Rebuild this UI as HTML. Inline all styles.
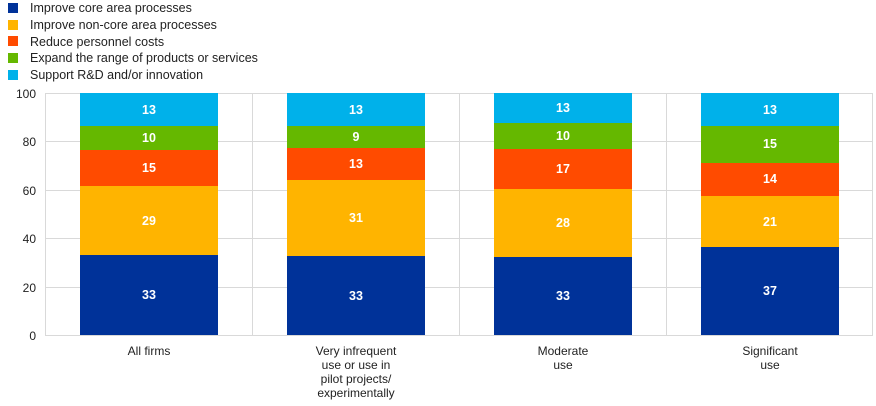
<!DOCTYPE html>
<html><head><style>body{margin:0;background:#fff}svg{display:block;font-family:"Liberation Sans",Arial,sans-serif}</style></head><body>
<svg width="876" height="406" viewBox="0 0 876 406">
<g font-size="12.5" fill="#222">
<rect x="8" y="3" width="10" height="10" fill="#003299"/><text x="30" y="12">Improve  core area processes</text>
<rect x="8" y="20" width="10" height="10" fill="#ffb400"/><text x="30" y="29">Improve  non-core area processes</text>
<rect x="8" y="36" width="10" height="10" fill="#ff4b00"/><text x="30" y="46">Reduce personnel costs</text>
<rect x="8" y="53" width="10" height="10" fill="#65b800"/><text x="30" y="62">Expand the range of products or services</text>
<rect x="8" y="70" width="10" height="10" fill="#00b1ea"/><text x="30" y="79">Support R&amp;D and/or innovation</text>
</g>
<g stroke="#d9d9d9" stroke-width="1">
<line x1="45" y1="93.5" x2="873" y2="93.5"/><line x1="45" y1="141.5" x2="873" y2="141.5"/><line x1="45" y1="190.5" x2="873" y2="190.5"/><line x1="45" y1="238.5" x2="873" y2="238.5"/><line x1="45" y1="287.5" x2="873" y2="287.5"/><line x1="45" y1="335.5" x2="873" y2="335.5"/>
<line x1="45.5" y1="93" x2="45.5" y2="335"/><line x1="252.5" y1="93" x2="252.5" y2="335"/><line x1="459.5" y1="93" x2="459.5" y2="335"/><line x1="666.5" y1="93" x2="666.5" y2="335"/><line x1="872.5" y1="93" x2="872.5" y2="335"/>
</g>
<g font-size="12" fill="#222" text-anchor="end">
<text x="36" y="98">100</text><text x="36" y="146">80</text><text x="36" y="195">60</text><text x="36" y="243">40</text><text x="36" y="292">20</text><text x="36" y="340">0</text>
</g>
<g>
<rect x="80" y="93" width="138" height="33" fill="#00b1ea"/><rect x="80" y="126" width="138" height="24" fill="#65b800"/><rect x="80" y="150" width="138" height="36" fill="#ff4b00"/><rect x="80" y="186" width="138" height="69" fill="#ffb400"/><rect x="80" y="255" width="138" height="80" fill="#003299"/>
<rect x="287" y="93" width="138" height="33" fill="#00b1ea"/><rect x="287" y="126" width="138" height="22" fill="#65b800"/><rect x="287" y="148" width="138" height="32" fill="#ff4b00"/><rect x="287" y="180" width="138" height="76" fill="#ffb400"/><rect x="287" y="256" width="138" height="79" fill="#003299"/>
<rect x="494" y="93" width="138" height="30" fill="#00b1ea"/><rect x="494" y="123" width="138" height="26" fill="#65b800"/><rect x="494" y="149" width="138" height="40" fill="#ff4b00"/><rect x="494" y="189" width="138" height="68" fill="#ffb400"/><rect x="494" y="257" width="138" height="78" fill="#003299"/>
<rect x="701" y="93" width="138" height="33" fill="#00b1ea"/><rect x="701" y="126" width="138" height="37" fill="#65b800"/><rect x="701" y="163" width="138" height="33" fill="#ff4b00"/><rect x="701" y="196" width="138" height="51" fill="#ffb400"/><rect x="701" y="247" width="138" height="88" fill="#003299"/>
</g>
<g font-size="12.5" font-weight="bold" fill="#fff" text-anchor="middle">
<text x="149" y="114">13</text><text x="149" y="142">10</text><text x="149" y="172">15</text><text x="149" y="225">29</text><text x="149" y="299">33</text>
<text x="356" y="114">13</text><text x="356" y="141">9</text><text x="356" y="168">13</text><text x="356" y="222">31</text><text x="356" y="300">33</text>
<text x="563" y="112">13</text><text x="563" y="140">10</text><text x="563" y="173">17</text><text x="563" y="227">28</text><text x="563" y="300">33</text>
<text x="770" y="114">13</text><text x="770" y="148">15</text><text x="770" y="183">14</text><text x="770" y="226">21</text><text x="770" y="295">37</text>
</g>
<g font-size="12" fill="#222" text-anchor="middle">
<text x="149" y="355">All firms</text>
<text x="356" y="355">Very infrequent</text><text x="356" y="369">use or use in</text><text x="356" y="383">pilot projects/</text><text x="356" y="397">experimentally</text>
<text x="563" y="355">Moderate</text><text x="563" y="369">use</text>
<text x="770" y="355">Significant</text><text x="770" y="369">use</text>
</g>
</svg>
</body></html>
